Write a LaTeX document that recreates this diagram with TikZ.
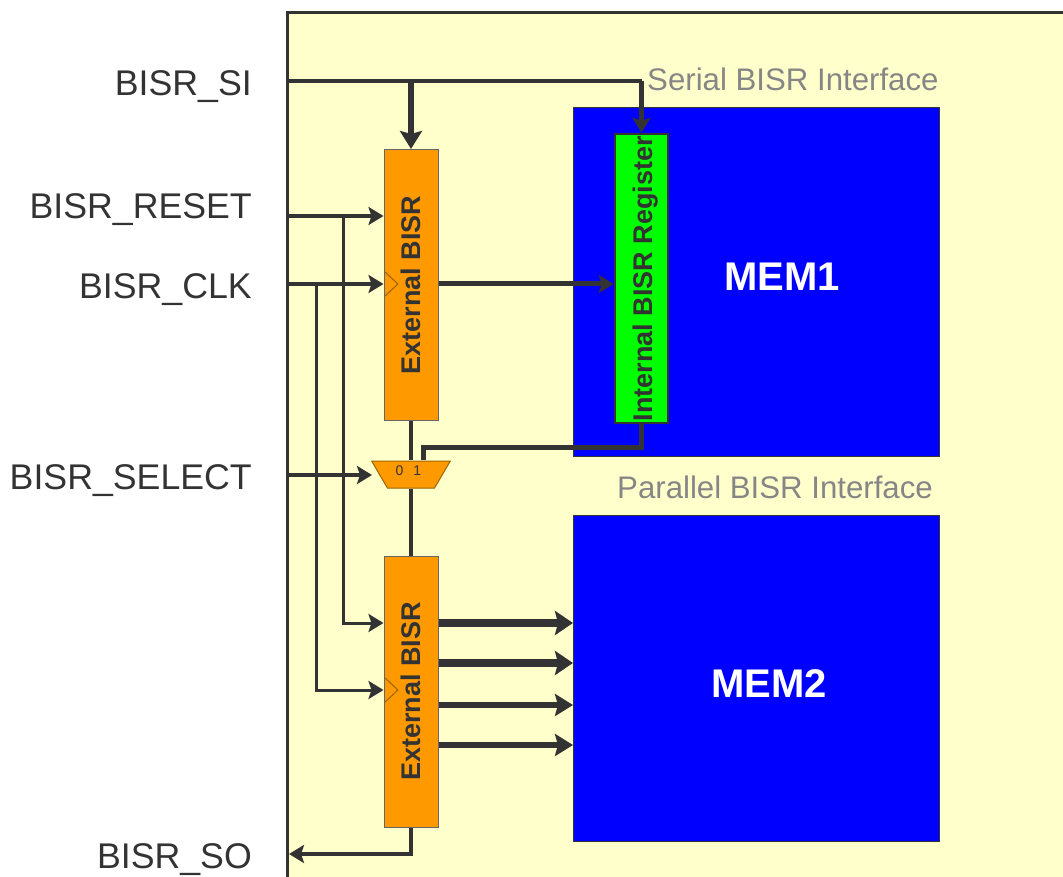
\documentclass[tikz,border=0pt]{standalone}
\usepackage{fontspec}
\setmainfont{Liberation Sans}
\usetikzlibrary{calc,arrows.meta,shapes.geometric}

\definecolor{chipbg}{HTML}{FFFFCC}
\definecolor{wire}{HTML}{333333}
\definecolor{bisr}{HTML}{FF9900}
\definecolor{clkmark}{HTML}{996600}

\tikzset{
  pinlabel/.style={anchor=base east,text=wire,font=\fontsize{35.7}{40}\selectfont,inner sep=0pt},
  iflabel/.style={anchor=base west,text=gray!95,font=\fontsize{31.2}{36}\selectfont,inner sep=0pt},
  membox/.style={draw=wire,line width=1pt,fill=blue,inner sep=0pt,minimum width=366pt},
  memlabel/.style={text=white,font=\bfseries\fontsize{40}{44}\selectfont},
  extbox/.style={draw=black!60,line width=1pt,fill=bisr,text=wire,font=\bfseries\fontsize{27}{32}\selectfont,inner sep=0pt,minimum width=54pt,minimum height=271pt},
  regbox/.style={draw=wire,line width=2.5pt,fill=green,text=wire,font=\bfseries\fontsize{27}{32}\selectfont,inner sep=0pt,minimum width=53pt,minimum height=289pt},
  wirea/.style={draw=wire,line width=4pt,-{Stealth[length=15pt,width=18pt,inset=3pt]}},
  wireb/.style={draw=wire,line width=6pt,-{Stealth[length=18pt,width=22pt,inset=3pt]}},
  wirec/.style={draw=wire,line width=8pt,-{Stealth[length=18pt,width=24pt,inset=3pt]}},
  plain/.style={draw=wire,line width=4pt}
}

\begin{document}
\begin{tikzpicture}[x=1pt,y=-1pt]

\useasboundingbox (0,0) rectangle (1063,877);

\fill[chipbg] (287,13) rectangle (1063,877);
\draw[wire,line width=3pt] (287,877) -- (287,13) -- (1063,13);

\coordinate (si) at (287,81);
\coordinate (rst) at (287,216);
\coordinate (clk) at (287,284);
\coordinate (sel) at (287,475);
\coordinate (so) at (289,854);

\node[pinlabel] (silabel) at (252,96) {BISR\_SI};
\node[pinlabel] (rstlabel) at (252,219) {BISR\_RESET};
\node[pinlabel] (clklabel) at (252,299) {BISR\_CLK};
\node[pinlabel] (sellabel) at (252,489) {BISR\_SELECT};
\node[pinlabel] (solabel) at (252,868) {BISR\_SO};

\node[iflabel] (serlabel) at (647,91) {Serial BISR Interface};
\node[iflabel] (parlabel) at (617,498) {Parallel BISR Interface};

\node[membox,minimum height=348pt] (mem1) at (756.5,282) {};
\node[membox,minimum height=326pt] (mem2) at (756.5,678) {};
\node[memlabel] (mem1label) at (782,277) {MEM1};
\node[memlabel] (mem2label) at (769,684) {MEM2};

\node[regbox] (reg) at (641.5,278.5) {\hspace*{8pt}\rotatebox{90}{Internal BISR Register}};
\node[extbox] (ext1) at (411,285) {\rotatebox{90}{External BISR}};
\node[extbox] (ext2) at (411,691.5) {\rotatebox{90}{External BISR}};

\node[trapezium,shape border rotate=180,trapezium stretches=true,draw=clkmark,line width=1pt,fill=bisr,text=wire,font=\fontsize{14}{15}\selectfont,inner sep=0pt,minimum width=79pt,minimum height=27pt] (mux) at (411,474.5) {\raisebox{8pt}{0\hspace{10pt}1\hspace{5pt}}};

\draw[clkmark,line width=1pt] (385,272) -- (398,284) -- (385,296);
\draw[clkmark,line width=1pt] (385,678) -- (398,690) -- (385,702);

\coordinate (rsttap) at (343,216);
\coordinate (clktap) at (316,284);
\coordinate (ret) at (423,447);

\draw[plain] (si) -- (641.5,81);
\draw[wirea,line width=5pt] (641.5,81) -- (reg.north);
\draw[wireb] (ext1.north |- si) -- (ext1.north);

\draw[wirea] (rst) -- (ext1.west |- rst);
\draw[wirea] (clk) -- (ext1.west |- clk);
\draw[wirea,line width=3pt] (rsttap) |- (ext2.west |- 0,623);
\draw[wirea,line width=3pt] (clktap) |- (ext2.west |- 0,690);
\draw[wirea,line width=5pt] (ext1.east |- clk) -- (reg.west |- clk);

\draw[plain] (ext1.south) -- (mux.north -| ext1.south);
\draw[plain] (mux.south -| ext2.north) -- (ext2.north);
\draw[plain,line width=5pt] (reg.south) -- (641.5,447) -- (ret) -- (ret |- mux.north);
\draw[wirea] (sel) -- (372,475);

\draw[wirec] (ext2.east |- 0,623) -- (mem2.west |- 0,623);
\draw[wirec] (ext2.east |- 0,663) -- (mem2.west |- 0,663);
\draw[wireb] (ext2.east |- 0,705) -- (mem2.west |- 0,705);
\draw[wireb] (ext2.east |- 0,745) -- (mem2.west |- 0,745);

\draw[wirea] (ext2.south) |- (so);

\end{tikzpicture}
\end{document}
